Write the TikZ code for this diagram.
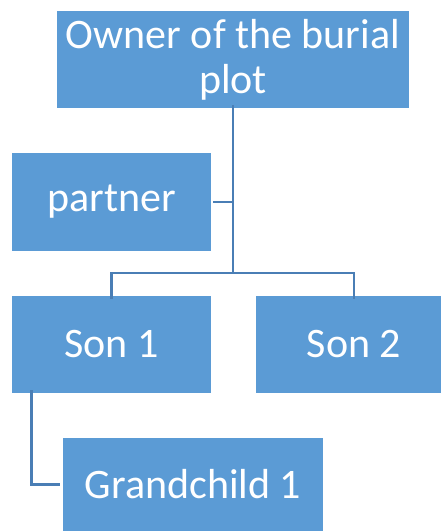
\documentclass[tikz,border=0pt]{standalone}
\usepackage{fontspec}
\setmainfont{Carlito}
\definecolor{boxblue}{HTML}{5B9BD5}
\definecolor{linkblue}{HTML}{4A7EB5}
\begin{document}
\begin{tikzpicture}[x=1pt,y=-1pt,
  person/.style={fill=boxblue, draw=none, text=white, font=\fontsize{42}{44}\selectfont, inner sep=0pt, align=center},
  link/.style={draw=linkblue, line width=2.2pt}]
\clip (0,0) rectangle (441,531);
% family boxes
\node[person, minimum width=352pt, minimum height=97pt] (owner) at (233,59.5) {Owner of the burial\\[1pt]plot};
\node[person, minimum width=199pt, minimum height=98pt] (partner) at (111.5,202) {partner};
\node[person, minimum width=199pt, minimum height=97pt] (son1) at (111.5,344.5) {Son 1};
\node[person, minimum width=196pt, minimum height=97pt] (son2) at (354,344.5) {Son 2};
\node[person, minimum width=260pt, minimum height=93pt] (grand) at (193,484.5) {Grandchild 1};
% connectors
\coordinate (fork) at (233,273);
\draw[link] ([yshift=3pt]owner.south) -- (fork);
\draw[link] (fork) -| ([yshift=-3pt]son1.north);
\draw[link] (fork) -| ([yshift=-3pt]son2.north);
\draw[link] ([xshift=2pt]partner.east) -- (partner.east -| fork);
\draw[link] ([xshift=-80pt,yshift=3pt]son1.south) |- ([xshift=-3pt]grand.west);
\end{tikzpicture}
\end{document}
